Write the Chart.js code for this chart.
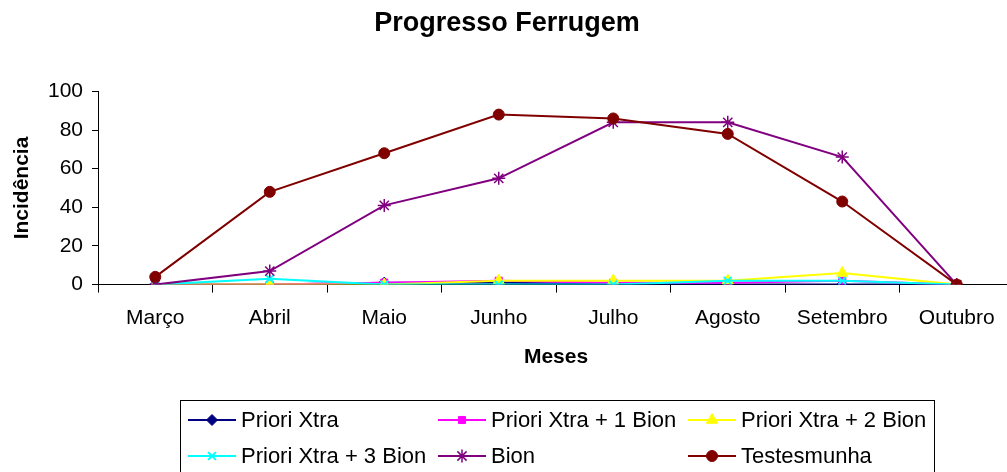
<!DOCTYPE html>
<html>
<head>
<meta charset="utf-8">
<script src="https://cdn.jsdelivr.net/npm/chart.js@4.4.1/dist/chart.umd.min.js"></script>
<style>
html,body{margin:0;padding:0;background:#fff;overflow:hidden;width:1007px;height:472px}
#wrap{position:relative;width:1022px;height:472px}
canvas{display:block}
</style>
</head>
<body>
<div id="wrap"><canvas id="c" width="1022" height="472" style="width:1022px;height:472px"></canvas></div>
<script>
const categories = ['Março','Abril','Maio','Junho','Julho','Agosto','Setembro','Outubro'];
const seriesNames = ['Priori Xtra','Priori Xtra + 1 Bion','Priori Xtra + 2 Bion','Priori Xtra + 3 Bion','Bion','Testesmunha'];
const prioriXtra      = [0, 0, 1, 1, 0.5, 0, 0, 0];
const prioriXtra1Bion = [0, 0, 1, 2, 1, 1, 2, 0];
const prioriXtra2Bion = [0, 0, 0, 2, 2, 2, 6, 0];
const prioriXtra3Bion = [0, 3, 0, 0, 0, 2, 2, 0];
const bion            = [0, 7, 41, 55, 84, 84, 66, 0];
const testesmunha     = [4, 48, 68, 88, 86, 78, 43, 0];
const yTicks = [0, 20, 40, 60, 80, 100];

const FONT = "'Liberation Sans', Arial, sans-serif";
const colors = ['#000080', '#FF00FF', '#FFFF00', '#00FFFF', '#800080', '#800000'];
const styles = [
  {pointStyle: 'rectRot', radius: 5.5, bw: 1},
  {pointStyle: 'rect', radius: 5, bw: 1},
  {pointStyle: 'triangle', radius: 6.5, bw: 1},
  {pointStyle: 'crossRot', radius: 5.5, bw: 2},
  {pointStyle: 'star', radius: 6.5, bw: 1.5},
  {pointStyle: 'circle', radius: 5.5, bw: 1}
];
const allData = [prioriXtra, prioriXtra1Bion, prioriXtra2Bion, prioriXtra3Bion, bion, testesmunha];

const datasets = allData.map((d, i) => ({
  label: seriesNames[i],
  data: d,
  borderColor: colors[i],
  backgroundColor: colors[i],
  pointBackgroundColor: colors[i],
  pointBorderColor: colors[i],
  pointStyle: styles[i].pointStyle,
  pointRadius: styles[i].radius,
  pointBorderWidth: styles[i].bw,
  borderWidth: 2,
  tension: 0,
  fill: false,
  order: 5 - i
}));

const legendPlugin = {
  id: 'boxLegend',
  afterDraw(chart) {
    const ctx = chart.ctx;
    ctx.save();
    ctx.strokeStyle = '#000';
    ctx.lineWidth = 1;
    ctx.strokeRect(180.5, 400.5, 754, 100);
    const colX = [188, 438, 688];
    const rowY = [420, 456];
    ctx.font = "22px " + FONT;
    ctx.textBaseline = 'middle';
    ctx.textAlign = 'left';
    seriesNames.forEach((name, i) => {
      const x = colX[i % 3], y = rowY[Math.floor(i / 3)];
      ctx.strokeStyle = colors[i];
      ctx.fillStyle = colors[i];
      ctx.lineWidth = 2;
      ctx.beginPath();
      ctx.moveTo(x, y);
      ctx.lineTo(x + 48, y);
      ctx.stroke();
      ctx.lineWidth = styles[i].bw;
      Chart.helpers.drawPoint(ctx, {pointStyle: styles[i].pointStyle, radius: styles[i].radius, borderWidth: styles[i].bw, rotation: 0}, x + 24, y);
      ctx.fillStyle = '#000';
      ctx.fillText(name, x + 53, y + 1);
    });
    ctx.restore();
  }
};

new Chart(document.getElementById('c'), {
  type: 'line',
  data: { labels: categories, datasets: datasets },
  options: {
    responsive: false,
    animation: false,
    devicePixelRatio: 1,
    layout: { padding: { left: 0, right: 8, top: 0, bottom: 102 } },
    plugins: {
      legend: { display: false },
      tooltip: { enabled: false },
      title: {
        display: true,
        text: 'Progresso Ferrugem',
        color: '#000',
        font: { family: FONT, size: 27, weight: 'bold' },
        padding: { top: 7, bottom: 52 }
      }
    },
    scales: {
      x: {
        type: 'category',
        offset: true,
        grid: { display: true, drawOnChartArea: false, drawTicks: true, tickLength: 8, offset: true, color: '#000' },
        border: { display: true, color: '#000', width: 1 },
        ticks: { color: '#000', font: { family: FONT, size: 21 }, padding: 13, maxRotation: 0, autoSkip: false },
        title: { display: true, text: 'Meses', color: '#000', font: { family: FONT, size: 21, weight: 'bold' }, padding: { top: 1, bottom: 0 } }
      },
      y: {
        min: 0, max: 100,
        afterFit(s) { s.width = 98; },
        afterBuildTicks(s) { s.ticks = yTicks.map(v => ({ value: v })); },
        grid: { display: true, drawOnChartArea: false, drawTicks: true, tickLength: 6, color: '#000' },
        border: { display: true, color: '#000', width: 1 },
        ticks: { color: '#000', font: { family: FONT, size: 21 }, padding: 9 },
        title: { display: true, text: 'Incidência', color: '#000', font: { family: FONT, size: 21, weight: 'bold' }, padding: { top: 10, bottom: 0 } }
      }
    }
  },
  plugins: [legendPlugin]
});
</script>
</body>
</html>
